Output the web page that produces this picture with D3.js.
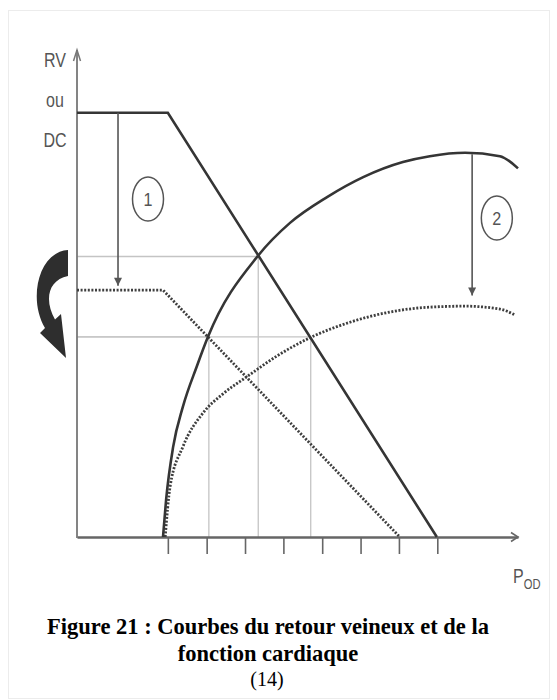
<!DOCTYPE html>
<html>
<head>
<meta charset="utf-8">
<script src="https://cdn.jsdelivr.net/npm/d3@7"></script>
<style>
  body { margin: 0; background: #fff; }
  svg { display: block; }
</style>
</head>
<body>
<div id="chart"></div>
<script>
// courbes de retour veineux (RV) : normale puis diminuée
const rvNormal = [[0, 87.1], [20.6, 87.1], [81.6, 0]];
const rvLow = [[0, 50.7], [19.5, 50.7], [73.2, 0]];

// courbes de fonction cardiaque (DC) : normale puis diminuée
const dcNormal = [
  [19.5, 0], [20.2, 7.6], [21.8, 18.5], [24.0, 26.7], [27.2, 35.1], [29.7, 41.1],
  [41.0, 57.7], [48.3, 64.5], [56.7, 69.8], [64.9, 73.9],
  [73.9, 77.0], [80.0, 78.2], [88.0, 78.9], [95.9, 78.2], [100, 75.7]
];
const dcLow = [
  [20.0, 0], [21.1, 10.3], [24.0, 18.5], [28.6, 25.5], [33.1, 29.4], [38.5, 32.9],
  [45.4, 37.2], [52.8, 40.9], [61.9, 44.1], [71.0, 46.2], [80.0, 47.2],
  [88.0, 47.4], [95.9, 46.8], [99.3, 45.6]
];

// graduations de l'axe P_OD
const xTicks = [20.6, 29.4, 38.1, 46.8, 55.6, 64.3, 73.0, 81.7];

// points d'équilibre (RV = DC)
const equilibria = [[41.1, 57.6], [29.9, 41.1], [53.0, 41.1]];

// flèches de transition et repères numérotés
const shiftArrows = [[9.3, 87.1, 51.6], [89.6, 78.6, 49.6]];
const badges = [['1', 16.1, 69.4], ['2', 95.2, 65.5]];

const W = 557, H = 700;
const svg = d3.select('#chart')
  .append('svg')
  .attr('width', W)
  .attr('height', H);

const x = d3.scaleLinear().domain([0, 100]).range([77, 518]);
const y = d3.scaleLinear().domain([0, 100]).range([537, 50]);

// cadre très clair autour de la figure
svg.append('rect')
  .attr('x', 8.5).attr('y', 10.5)
  .attr('width', 541).attr('height', 688)
  .attr('fill', 'none')
  .attr('stroke', '#ececec');

const defs = svg.append('defs');
defs.append('marker')
  .attr('id', 'head')
  .attr('viewBox', '0 0 10 10')
  .attr('refX', 10).attr('refY', 5)
  .attr('markerUnits', 'userSpaceOnUse')
  .attr('markerWidth', 11).attr('markerHeight', 8)
  .attr('orient', 'auto')
  .append('path')
  .attr('d', 'M0,0 L10,5 L0,10 Z')
  .attr('fill', '#555');

// lignes de repère grises
const guides = svg.append('g')
  .attr('stroke', '#c4c4c4')
  .attr('stroke-width', 1.3);
equilibria.forEach(([ex, ey]) => {
  guides.append('line')
    .attr('x1', x(0)).attr('x2', x(ex))
    .attr('y1', y(ey)).attr('y2', y(ey));
  guides.append('line')
    .attr('x1', x(ex)).attr('x2', x(ex))
    .attr('y1', y(0)).attr('y2', y(ey));
});

// axes
const xAxis = svg.append('g')
  .attr('transform', `translate(0,${y(0)})`)
  .call(d3.axisBottom(x).tickValues(xTicks).tickSize(17).tickSizeOuter(0).tickFormat(''));
xAxis.select('.domain').attr('stroke', '#666').attr('stroke-width', 2.4);
xAxis.selectAll('.tick line').attr('stroke', '#666').attr('stroke-width', 1.6);

svg.append('line')
  .attr('x1', x(0)).attr('x2', x(0))
  .attr('y1', y(0) + 1).attr('y2', y(100))
  .attr('stroke', '#777')
  .attr('stroke-width', 1.8);

// pointes ouvertes des axes
svg.append('path')
  .attr('d', `M${x(0) - 3.5},${y(100) + 11} L${x(0)},${y(100)} L${x(0) + 3.5},${y(100) + 11}`)
  .attr('fill', 'none').attr('stroke', '#777').attr('stroke-width', 1.5);
svg.append('path')
  .attr('d', `M${x(100) - 7},${y(0) - 4.5} L${x(100)},${y(0)} L${x(100) - 7},${y(0) + 4.5}`)
  .attr('fill', 'none').attr('stroke', '#666').attr('stroke-width', 1.6);

const straight = d3.line().x(d => x(d[0])).y(d => y(d[1]));
const smooth = d3.line().x(d => x(d[0])).y(d => y(d[1])).curve(d3.curveMonotoneX);

// courbes pointillées (état diminué)
svg.append('path')
  .attr('d', straight(rvLow))
  .attr('fill', 'none').attr('stroke', '#3f3f3f')
  .attr('stroke-width', 2.8).attr('stroke-dasharray', '2,1.6');
svg.append('path')
  .attr('d', smooth(dcLow))
  .attr('fill', 'none').attr('stroke', '#3f3f3f')
  .attr('stroke-width', 2.8).attr('stroke-dasharray', '2,1.6');

// courbes pleines (état normal)
svg.append('path')
  .attr('d', straight(rvNormal))
  .attr('fill', 'none').attr('stroke', '#353535')
  .attr('stroke-width', 2.6).attr('stroke-linejoin', 'miter');
svg.append('path')
  .attr('d', smooth(dcNormal))
  .attr('fill', 'none').attr('stroke', '#353535')
  .attr('stroke-width', 2.6);

// flèches verticales 1 et 2
svg.selectAll('.shift')
  .data(shiftArrows)
  .enter()
  .append('line')
  .attr('class', 'shift')
  .attr('x1', d => x(d[0])).attr('x2', d => x(d[0]))
  .attr('y1', d => y(d[1])).attr('y2', d => y(d[2]))
  .attr('stroke', '#555')
  .attr('stroke-width', 1.6)
  .attr('marker-end', 'url(#head)');

const axisFont = '"Liberation Sans", Arial, sans-serif';

const badge = svg.selectAll('.badge')
  .data(badges)
  .enter()
  .append('g')
  .attr('class', 'badge')
  .attr('transform', d => `translate(${x(d[1])},${y(d[2])})`);
badge.append('ellipse')
  .attr('rx', 15.5).attr('ry', 22)
  .attr('fill', 'none').attr('stroke', '#555').attr('stroke-width', 1.5);
badge.append('text')
  .attr('text-anchor', 'middle')
  .attr('dy', '0.36em')
  .attr('transform', 'scale(0.85,1)')
  .style('font-family', axisFont)
  .style('font-size', '19px')
  .style('fill', '#555')
  .text(d => d[0]);

// grosse flèche courbe à gauche
svg.append('path')
  .attr('d', 'M68,250 C38,252 28,300 45,328 L40,333 L66,358 L61,314 L55,319.5 C44,300 48,280 68,276 Z')
  .attr('fill', '#2e2e2e');

// libellés des axes (police étroite simulée)
svg.selectAll('.ylab')
  .data([['RV', 67], ['ou', 107], ['DC', 147]])
  .enter()
  .append('text')
  .attr('class', 'ylab')
  .attr('transform', d => `translate(55,${d[1]}) scale(0.8,1)`)
  .attr('text-anchor', 'middle')
  .style('font-family', axisFont)
  .style('font-size', '20px')
  .style('fill', '#555')
  .text(d => d[0]);

const pod = svg.append('text')
  .attr('transform', 'translate(513,583) scale(0.8,1)')
  .style('font-family', axisFont)
  .style('font-size', '20px')
  .style('fill', '#555');
pod.append('tspan').text('P');
pod.append('tspan').attr('dy', 6).style('font-size', '14px').text('OD');

// légende de la figure
const cap = svg.append('g')
  .attr('text-anchor', 'middle')
  .style('font-family', '"Liberation Serif", "Times New Roman", serif')
  .style('fill', '#000');
cap.append('text').attr('x', 268).attr('y', 634)
  .style('font-weight', 'bold').style('font-size', '22.5px')
  .text('Figure 21 : Courbes du retour veineux et de la');
cap.append('text').attr('x', 268).attr('y', 661)
  .style('font-weight', 'bold').style('font-size', '22.5px')
  .text('fonction cardiaque');
cap.append('text').attr('x', 267).attr('y', 686)
  .style('font-size', '20px')
  .text('(14)');
</script>
</body>
</html>
